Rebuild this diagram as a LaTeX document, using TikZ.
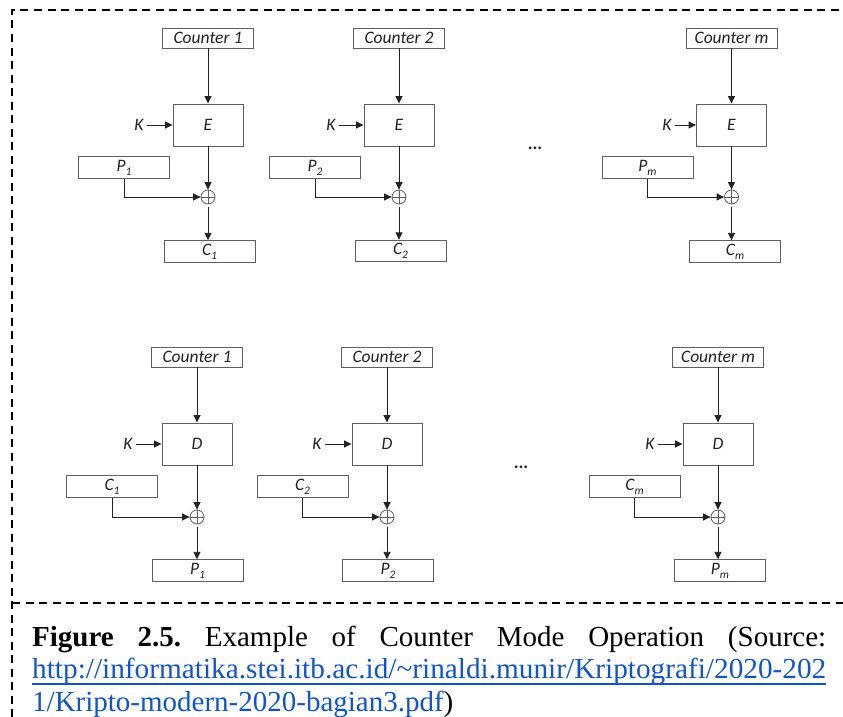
\documentclass[tikz,border=0pt]{standalone}
\usepackage{fontspec}
\usepackage{graphicx}
\setmainfont{Liberation Serif}
\newfontfamily\diagfont{Carlito}
\usetikzlibrary{arrows.meta}
\definecolor{linkblue}{RGB}{17,85,204}
\definecolor{boxgray}{RGB}{95,95,95}
\definecolor{inkgray}{RGB}{35,35,35}
\newcommand\sub[1]{\raisebox{-0.5ex}{\fontsize{11.5}{11.5}\selectfont #1}}
\begin{document}
\begin{tikzpicture}[x=1pt,y=-1pt,
  every node/.style={font=\diagfont\itshape\fontsize{17.5}{19}\selectfont, text=inkgray},
  ctr/.style={draw=boxgray, line width=0.9pt, minimum width=91pt, minimum height=20pt, inner sep=0pt},
  cipher/.style={draw=boxgray, line width=0.9pt, minimum width=70pt, minimum height=42pt, inner sep=0pt},
  blk/.style={draw=boxgray, line width=0.9pt, minimum width=91pt, minimum height=21.5pt, inner sep=0pt},
  xorop/.style={circle, draw=boxgray, line width=0.8pt, minimum size=14pt, inner sep=0pt,
    path picture={\draw[boxgray, line width=0.8pt]
      (path picture bounding box.north) -- (path picture bounding box.south)
      (path picture bounding box.west) -- (path picture bounding box.east);}},
  flow/.style={draw=inkgray, line width=0.9pt, -{Triangle[length=7.5pt,width=7pt]}},
  frame/.style={line width=2.8pt, dash pattern=on 8pt off 5.5pt},
  dotsfont/.style={font=\diagfont\bfseries\fontsize{18}{19}\selectfont},
  caption/.style={anchor=base west, inner sep=0pt, text=black, font=\rmfamily\upshape\fontsize{29}{29}\selectfont}
]
\useasboundingbox[fill=white] (0,0) rectangle (843,717);

% dashed frame
\draw[frame] (12,717) -- (12,10) -- (843,10);
\draw[frame] (12,603) -- (843,603);

% ---------------- encryption ----------------
% stage 1
\node[ctr] (ec1) at (208,38) {Counter 1};
\node[cipher] (ee1) at (208,125) {E};
\node (ek1) at (139,125) {K};
\node[blk] (ep1) at (124,167.5) {P\sub{1}};
\node[xorop] (ex1) at (208,197) {};
\node[blk] (eo1) at (209.5,251.5) {C\sub{1}};
\draw[flow] (ec1) -- (ee1);
\draw[flow] (ek1) -- (ee1);
\draw[flow] (ee1) -- (ex1);
\draw[flow] (ep1.south) |- (ex1.west);
\draw[flow] ([yshift=-3pt]ex1.south) -- (ex1 |- eo1.north);

% stage 2
\node[ctr] (ec2) at (399,38) {Counter 2};
\node[cipher] (ee2) at (399,125) {E};
\node (ek2) at (331,125) {K};
\node[blk] (ep2) at (315,167.5) {P\sub{2}};
\node[xorop] (ex2) at (399,197) {};
\node[blk] (eo2) at (400.5,251) {C\sub{2}};
\draw[flow] (ec2) -- (ee2);
\draw[flow] (ek2) -- (ee2);
\draw[flow] (ee2) -- (ex2);
\draw[flow] (ep2.south) |- (ex2.west);
\draw[flow] ([yshift=-3pt]ex2.south) -- (ex2 |- eo2.north);

\node[dotsfont] (edots) at (535,148) {...};

% stage m
\node[ctr] (ecm) at (731.5,38) {Counter m};
\node[cipher] (eem) at (731.5,125) {E};
\node (ekm) at (667,125) {K};
\node[blk] (epm) at (647.5,167.5) {P\sub{m}};
\node[xorop] (exm) at (731.5,197) {};
\node[blk] (eom) at (735,251.5) {C\sub{m}};
\draw[flow] (ecm) -- (eem);
\draw[flow] (ekm) -- (eem);
\draw[flow] (eem) -- (exm);
\draw[flow] (epm.south) |- (exm.west);
\draw[flow] ([yshift=-3pt]exm.south) -- (exm |- eom.north);

% ---------------- decryption ----------------
% stage 1
\node[ctr] (dc1) at (197,357) {Counter 1};
\node[cipher] (dd1) at (197,444) {D};
\node (dk1) at (128,444) {K};
\node[blk] (di1) at (112,486.5) {C\sub{1}};
\node[xorop] (dx1) at (197,517) {};
\node[blk] (do1) at (197.5,570.5) {P\sub{1}};
\draw[flow] (dc1) -- (dd1);
\draw[flow] (dk1) -- (dd1);
\draw[flow] (dd1) -- (dx1);
\draw[flow] (di1.south) |- (dx1.west);
\draw[flow] ([yshift=-3pt]dx1.south) -- (dx1 |- do1.north);

% stage 2
\node[ctr] (dc2) at (387,357) {Counter 2};
\node[cipher] (dd2) at (387,444) {D};
\node (dk2) at (317,444) {K};
\node[blk] (di2) at (302.5,486.5) {C\sub{2}};
\node[xorop] (dx2) at (387,517) {};
\node[blk] (do2) at (388,570.5) {P\sub{2}};
\draw[flow] (dc2) -- (dd2);
\draw[flow] (dk2) -- (dd2);
\draw[flow] (dd2) -- (dx2);
\draw[flow] (di2.south) |- (dx2.west);
\draw[flow] ([yshift=-3pt]dx2.south) -- (dx2 |- do2.north);

\node[dotsfont] (ddots) at (521,467) {...};

% stage m
\node[ctr] (dcm) at (718,357) {Counter m};
\node[cipher] (ddm) at (718,444) {D};
\node (dkm) at (650,444) {K};
\node[blk] (dim) at (634.5,486.5) {C\sub{m}};
\node[xorop] (dxm) at (718,517) {};
\node[blk] (dom) at (720,570.5) {P\sub{m}};
\draw[flow] (dcm) -- (ddm);
\draw[flow] (dkm) -- (ddm);
\draw[flow] (ddm) -- (dxm);
\draw[flow] (dim.south) |- (dxm.west);
\draw[flow] ([yshift=-3pt]dxm.south) -- (dxm |- dom.north);

% ---------------- caption ----------------
\node[caption] (cap1) at (32,646) {\hbox to 794pt{\textbf{Figure}\hfill\textbf{2.5.}\hfill Example\hfill of\hfill Counter\hfill Mode\hfill Operation\hfill (Source:}};
\node[caption, text=linkblue] (cap2) at (32,678) {\resizebox{794pt}{\height}{http://informatika.stei.itb.ac.id/\textasciitilde rinaldi.munir/Kriptografi/2020-202}};
\node[caption] (cap3) at (32,711) {\textcolor{linkblue}{1/Kripto-modern-2020-bagian3.pdf})};
\draw[linkblue, line width=1.8pt] ([yshift=-6pt]cap2.base west) -- ([yshift=-6pt]cap2.base east);
\end{tikzpicture}
\end{document}
